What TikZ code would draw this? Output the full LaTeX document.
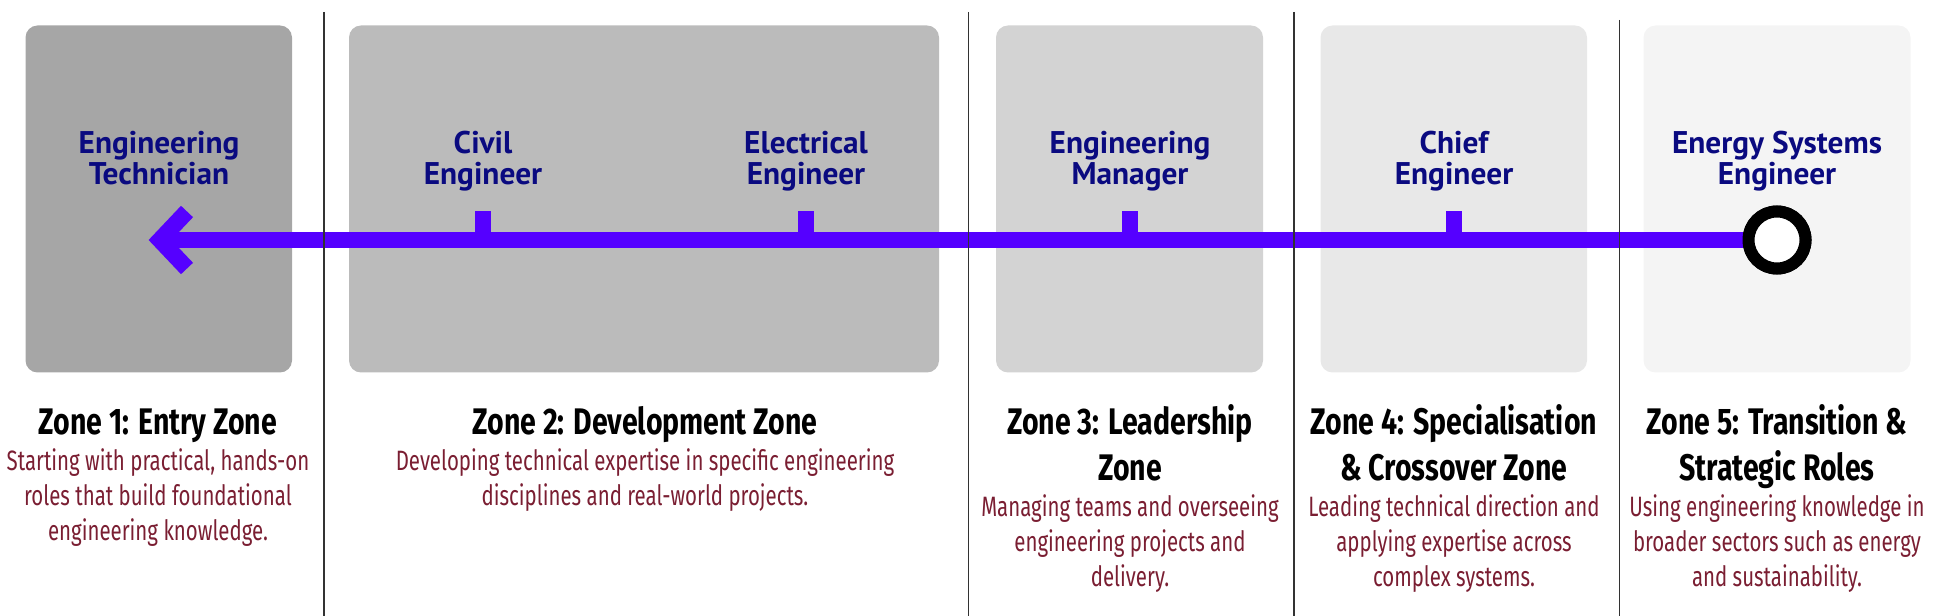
\documentclass[tikz,border=0pt]{standalone}
\usepackage{fontspec}
\newfontfamily\rolefont{PT Sans}
\newfontfamily\zonefont[FakeStretch=0.77]{Fira Sans}
\newfontfamily\notefont[FakeStretch=0.73]{Fira Sans}

\tikzset{
	zonebox/.style={rounded corners=9pt},
	route/.style={line width=12.4pt, draw={rgb, 255:red, 85; green, 0; blue, 255 }},
	divider/.style={line width=1.1pt, draw={rgb, 255:red, 50; green, 50; blue, 50 }},
	role/.style={anchor=base, align=center, inner sep=0pt, text={rgb, 255:red, 10; green, 10; blue, 128 }, font=\rolefont\bfseries\fontsize{23.5pt}{23.6pt}\selectfont},
	zonehead/.style={anchor=base, align=center, inner sep=0pt, font=\zonefont\bfseries\fontsize{27.75pt}{34.5pt}\selectfont},
	zonenote/.style={anchor=base, align=center, inner sep=0pt, text={rgb, 255:red, 122; green, 30; blue, 50 }, font=\notefont\fontsize{21pt}{26.25pt}\selectfont}}
\tikzset{every picture/.style={line width=0.75pt}}

\begin{document}
\begin{tikzpicture}[x=0.75pt,y=0.75pt,yscale=-1,xscale=1]
	\path [use as bounding box] (0,0) rectangle (1938,616);

	%Shape: Rectangle [zone 1]
	\fill [zonebox, fill={rgb, 255:red, 166; green, 166; blue, 166 }] (25.5,25.5) rectangle (292,372.5);
	%Shape: Rectangle [zone 2]
	\fill [zonebox, fill={rgb, 255:red, 187; green, 187; blue, 187 }] (349,25.5) rectangle (939,372.5);
	%Shape: Rectangle [zone 3]
	\fill [zonebox, fill={rgb, 255:red, 211; green, 211; blue, 211 }] (996,25.5) rectangle (1263,372.5);
	%Shape: Rectangle [zone 4]
	\fill [zonebox, fill={rgb, 255:red, 232; green, 232; blue, 232 }] (1320.5,25.5) rectangle (1587,372.5);
	%Shape: Rectangle [zone 5]
	\fill [zonebox, fill={rgb, 255:red, 244; green, 244; blue, 244 }] (1643.5,25.5) rectangle (1910.5,372.5);

	% Text Node (base = last line)
	\node [role] (tech) at (159,184.6) {Engineering\\Technician};
	% Text Node
	\node [role] (civil) at (483,184.6) {Civil\\Engineer};
	% Text Node
	\node [role] (elec) at (806,184.6) {Electrical\\Engineer};
	% Text Node
	\node [role] (manager) at (1130,184.6) {Engineering\\Manager};
	% Text Node
	\node [role] (chief) at (1454,184.6) {Chief\\Engineer};
	% Text Node
	\node [role] (energy) at (1777,184.6) {Energy Systems\\Engineer};

	%Shape: Circle [start]
	\node [circle, draw, line width=9pt, fill=white, inner sep=0pt, minimum size=42.75pt] (ring) at (1777,240) {};
	\coordinate (tip) at (160,240);
	%Straight Lines [route]
	\draw [route] (ring) -- (tip);
	\draw [route, line join=miter] ([shift={(27,-28.5)}]tip) -- (tip) -- ([shift={(27,28.5)}]tip);
	%Straight Lines [pins]
	\foreach \r in {civil,elec,manager,chief}
		\draw [route] (\r |- tip) -- ++(0,-29);
	\node [circle, draw, line width=9pt, fill=white, inner sep=0pt, minimum size=42.75pt] at (ring) {};

	%Straight Lines [dividers]
	\draw [divider] (324,12) -- (324,616);
	\draw [divider] (968.5,12) -- (968.5,616);
	\draw [divider] (1294,12) -- (1294,616);
	\draw [divider] (1619.5,20) -- (1619.5,616);

	% Text Node
	\node [zonehead] (z1) at (158,434) {Zone 1: Entry Zone};
	% Text Node
	\node [zonehead] (z2) at (645,434) {Zone 2: Development Zone};
	% Text Node
	\node [zonehead] (z3) at (1130,480) {Zone 3: Leadership\\Zone};
	% Text Node
	\node [zonehead] (z4) at (1454,480) {Zone 4: Specialisation\\\& Crossover Zone};
	% Text Node
	\node [zonehead] (z5) at (1777,480) {Zone 5: Transition \&\\Strategic Roles};

	% Text Node
	\node [zonenote] (n1) at (158,540) {Starting with practical, hands-on\\roles that build foundational\\engineering knowledge.};
	% Text Node
	\node [zonenote] (n2) at (645,505) {Developing technical expertise in specific engineering\\disciplines and real-world projects.};
	% Text Node
	\node [zonenote] (n3) at (1130,586.5) {Managing teams and overseeing\\engineering projects and\\delivery.};
	% Text Node
	\node [zonenote] (n4) at (1454,586.5) {Leading technical direction and\\applying expertise across\\complex systems.};
	% Text Node
	\node [zonenote] (n5) at (1777,586.5) {Using engineering knowledge in\\broader sectors such as energy\\and sustainability.};

\end{tikzpicture}
\end{document}
